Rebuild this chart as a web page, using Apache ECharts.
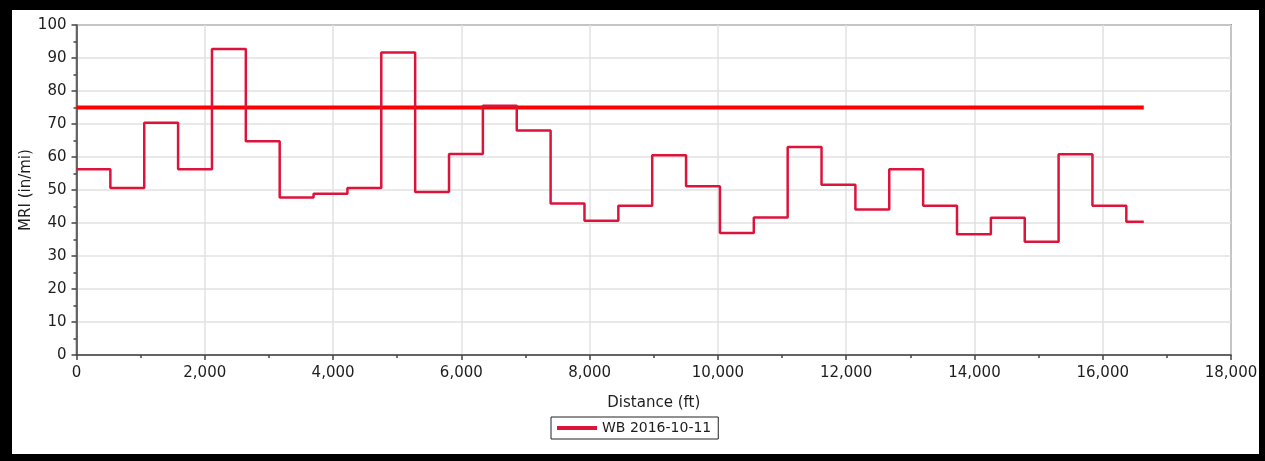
<!DOCTYPE html>
<html>
<head>
<meta charset="utf-8">
<script src="https://cdn.jsdelivr.net/npm/echarts@6/dist/echarts.min.js"></script>
<style>
  html, body { margin: 0; padding: 0; background: #000; width: 1265px; height: 461px; overflow: hidden; }
  #chart { position: absolute; left: 12px; top: 10px; width: 1247px; height: 444px; background: #fff; }
</style>
</head>
<body>
<div id="chart"></div>
<script>
// Segment start distances (ft), every 0.1 mi, plus the end of the last segment
const distances = [0, 528, 1056, 1584, 2112, 2640, 3168, 3696, 4224, 4752, 5280, 5808,
  6336, 6864, 7392, 7920, 8448, 8976, 9504, 10032, 10560, 11088, 11616, 12144,
  12672, 13200, 13728, 14256, 14784, 15312, 15840, 16368, 16640];
// MRI per segment (in/mi)
const mriValues = [56.3, 50.6, 70.4, 56.3, 92.7, 64.8, 47.7, 48.9, 50.6, 91.7, 49.4, 60.9,
  75.5, 68.0, 45.9, 40.7, 45.2, 60.5, 51.1, 37.0, 41.7, 63.0, 51.6, 44.1,
  56.3, 45.2, 36.6, 41.6, 34.3, 60.8, 45.2, 40.4];
const thresholdValue = 75;
const seriesName = 'WB 2016-10-11';
const xTicks = { min: 0, max: 18000, interval: 2000 };
const yTicks = { min: 0, max: 100, interval: 10 };

// step line points: each segment starts at its distance; the final point closes the last segment
const stepData = distances.map((d, i) => [d, mriValues[Math.min(i, mriValues.length - 1)]]);
const thresholdData = [[distances[0], thresholdValue], [distances[distances.length - 1], thresholdValue]];

const font = 'DejaVu Sans';
const textColor = '#1e1e1e';
const axisColor = '#444';
const gridColor = '#e2e2e2';

const chart = echarts.init(document.getElementById('chart'), null, { renderer: 'canvas' });
chart.setOption({
  animation: false,
  grid: {
    left: 64.5, top: 15, right: 28, bottom: 99,
    outerBoundsMode: 'none',
    containLabel: false,
    show: true, borderColor: axisColor, borderWidth: 1.5, backgroundColor: 'transparent'
  },
  legend: {
    data: [seriesName],
    left: 539, top: 407,
    orient: 'horizontal',
    borderColor: '#222', borderWidth: 1,
    padding: [4, 7, 4, 6],
    itemWidth: 40, itemHeight: 4,
    icon: 'rect',
    textStyle: { fontFamily: font, fontSize: 14, color: textColor }
  },
  xAxis: {
    type: 'value',
    min: xTicks.min, max: xTicks.max, interval: xTicks.interval,
    name: 'Distance (ft)',
    nameLocation: 'middle', nameGap: 41,
    nameMoveOverlap: false,
    nameTextStyle: { fontFamily: font, fontSize: 15, color: textColor },
    axisLine: { show: true, onZero: false, lineStyle: { color: axisColor, width: 1.5 } },
    axisTick: { show: true, length: 5, lineStyle: { color: axisColor, width: 1.5 } },
    minorTick: { show: true, splitNumber: 2, length: 3, lineStyle: { color: axisColor, width: 1.5 } },
    axisLabel: {
      fontFamily: font, fontSize: 15, color: textColor, margin: 11,
      formatter: v => v.toLocaleString('en-US')
    },
    splitLine: { show: true, lineStyle: { color: gridColor, width: 1.5 } }
  },
  yAxis: {
    type: 'value',
    min: yTicks.min, max: yTicks.max, interval: yTicks.interval,
    name: 'MRI (in/mi)',
    nameLocation: 'middle', nameGap: 43,
    nameMoveOverlap: false,
    nameTextStyle: { fontFamily: font, fontSize: 15, color: textColor },
    axisLine: { show: true, lineStyle: { color: axisColor, width: 1.5 } },
    axisTick: { show: true, length: 5, lineStyle: { color: axisColor, width: 1.5 } },
    minorTick: { show: true, splitNumber: 2, length: 3, lineStyle: { color: axisColor, width: 1.5 } },
    axisLabel: { fontFamily: font, fontSize: 15, color: textColor, margin: 10 },
    splitLine: { show: true, lineStyle: { color: gridColor, width: 1.5 } }
  },
  series: [
    {
      name: 'Threshold',
      type: 'line',
      data: thresholdData,
      symbol: 'none',
      silent: true,
      z: 2,
      lineStyle: { color: '#ff0000', width: 4 }
    },
    {
      name: seriesName,
      type: 'line',
      step: 'end',
      data: stepData,
      symbol: 'none',
      z: 3,
      itemStyle: { color: '#dc143c' },
      lineStyle: { color: '#dc143c', width: 2.5 }
    }
  ]
});
</script>
</body>
</html>
